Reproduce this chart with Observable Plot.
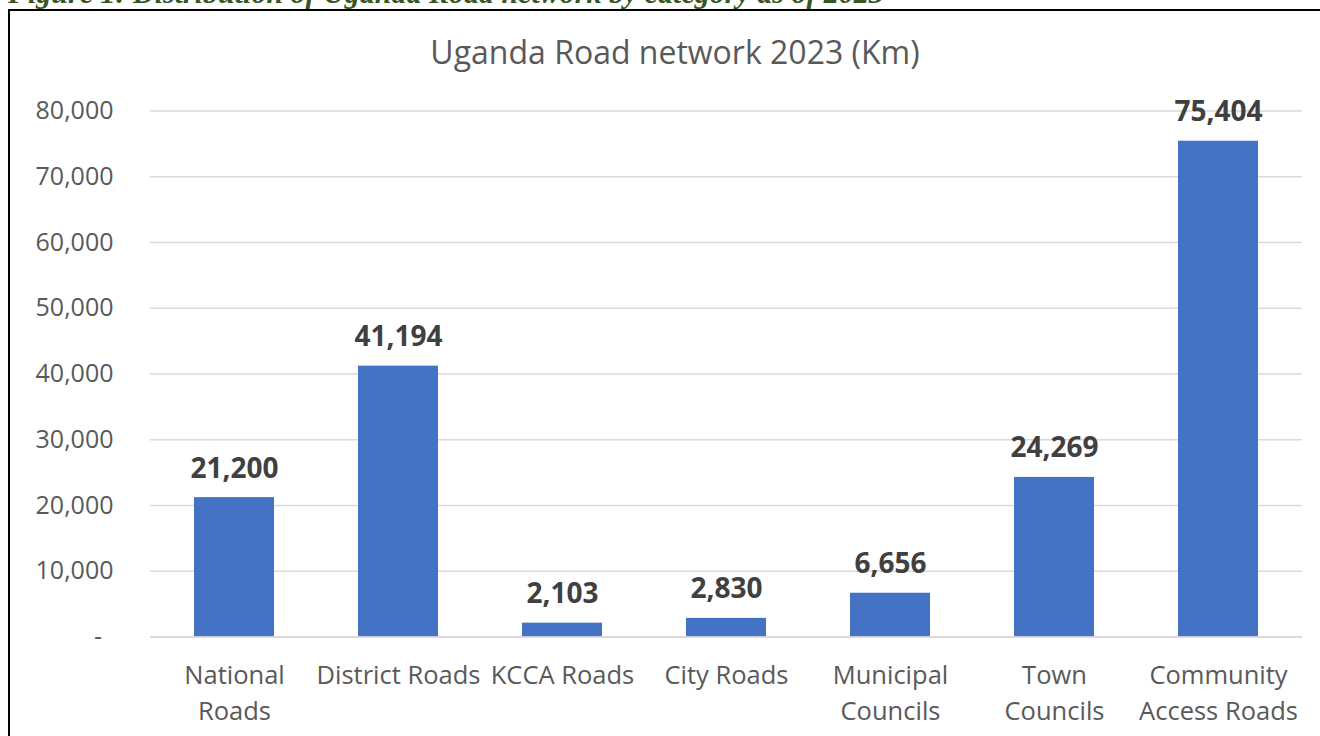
<!DOCTYPE html>
<html>
<head>
<meta charset="utf-8">
<script src="https://cdn.jsdelivr.net/npm/d3@7"></script>
<script src="https://cdn.jsdelivr.net/npm/@observablehq/plot@0.6"></script>
<style>
  html, body { margin: 0; padding: 0; background: #fff; overflow: hidden; }
  #wrap { position: relative; width: 1320px; height: 736px; overflow: hidden; background: #fff; }
  #caption { position: absolute; left: 8px; top: -22px; font-family: "Liberation Serif", serif; font-weight: bold; font-style: italic; font-size: 30px; line-height: 1; color: #375623; white-space: nowrap; }
  #box { position: absolute; left: 8px; top: 9px; width: 1400px; height: 800px; border-left: 2.5px solid #000; border-top: 2.5px solid #000; box-sizing: border-box; }
  #chart { position: absolute; left: 0; top: 0; }
</style>
</head>
<body>
<div id="wrap">
  <div id="caption">Figure 1: Distribution of Uganda Road network by category as of 2023</div>
  <div id="box"></div>
  <div id="chart"></div>
</div>
<script>
const title = "Uganda Road network 2023 (Km)";
const categories = ["National Roads", "District Roads", "KCCA Roads", "City Roads", "Municipal Councils", "Town Councils", "Community Access Roads"];
const tickLabels = ["National\nRoads", "District Roads", "KCCA Roads", "City Roads", "Municipal\nCouncils", "Town\nCouncils", "Community\nAccess Roads"];
const values = [21200, 41194, 2103, 2830, 6656, 24269, 75404];
const yTicks = [0, 10000, 20000, 30000, 40000, 50000, 60000, 70000, 80000];

const data = categories.map((c, i) => ({category: c, value: values[i]}));
const labelOf = new Map(categories.map((c, i) => [c, tickLabels[i]]));
const fmt = d3.format(",");
const FONT = "'Open Sans', sans-serif";

const chart = Plot.plot({
  width: 1320,
  height: 736,
  marginLeft: 150,
  marginRight: 18,
  marginTop: 110.5,
  marginBottom: 99.5,
  style: {fontFamily: FONT, fontSize: "24px", color: "#595959", background: "transparent"},
  x: {domain: categories, paddingInner: 0.514, paddingOuter: 0.257, label: null},
  y: {domain: [0, 80000], label: null},
  marks: [
    Plot.gridY(yTicks, {stroke: "#D9D9D9", strokeOpacity: 1, strokeWidth: 1.3}),
    Plot.barY(data, {x: "category", y: "value", fill: "#4472C4"}),
    Plot.ruleY([0], {stroke: "#D9D9D9", strokeWidth: 1.5}),
    Plot.axisY(yTicks.filter(d => d > 0), {tickSize: 0, tickPadding: 37, tickFormat: fmt, fill: "#595959", fontSize: 25, label: null}),
    Plot.text([0], {y: d => d, frameAnchor: "left", dx: -52.5, text: () => "-", textAnchor: "middle", lineAnchor: "middle", fill: "#595959", fontSize: 25}),
    Plot.axisX({tickSize: 0, tickPadding: 22, tickFormat: d => labelOf.get(d), lineAnchor: "top", lineHeight: 1.40, fill: "#595959", fontSize: 25.5, label: null}),
    Plot.text(data, {x: "category", y: "value", text: d => fmt(d.value), lineAnchor: "bottom", dy: -20, fontWeight: "bold", fontSize: 28, fill: "#404040"}),
    Plot.text([title], {frameAnchor: "top-left", dx: 674.5 - 150, dy: -47, textAnchor: "middle", lineAnchor: "bottom", fontSize: 32, fill: "#595959"})
  ]
});
document.getElementById("chart").appendChild(chart);
</script>
</body>
</html>
